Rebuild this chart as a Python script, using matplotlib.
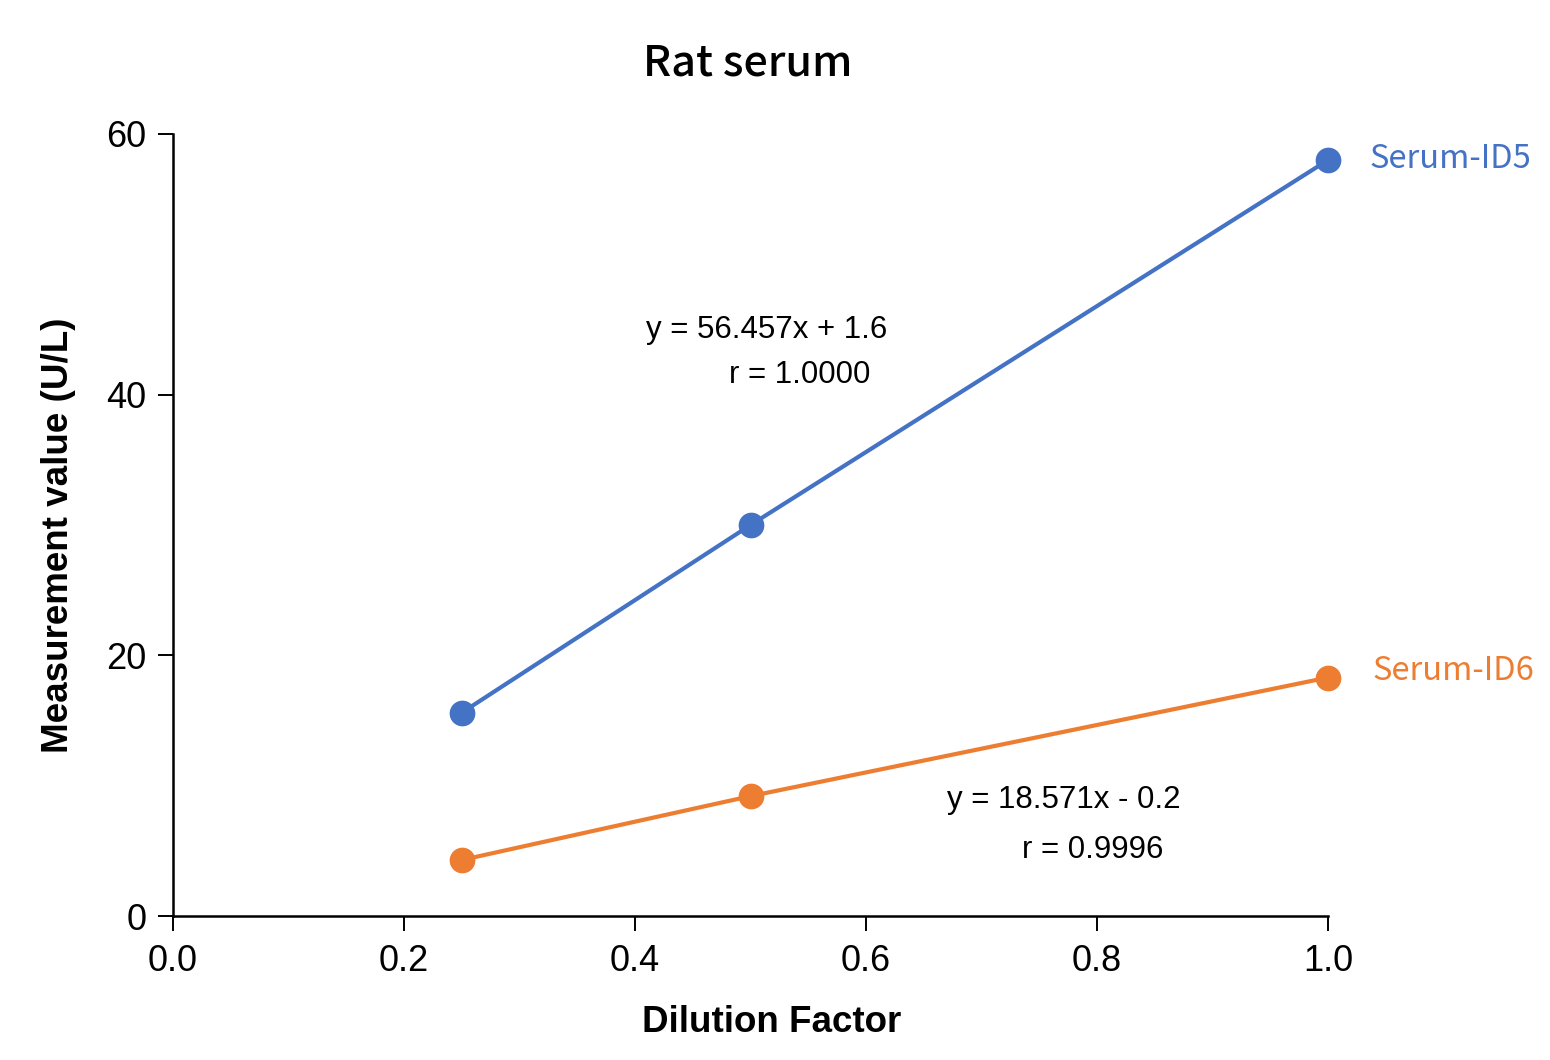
import matplotlib
matplotlib.use("Agg")
import matplotlib.pyplot as plt

dilution = [0.25, 0.5, 1.0]
id5_values = [15.6, 30.0, 58.0]
id6_values = [4.3, 9.2, 18.3]
series_names = ["Serum-ID5", "Serum-ID6"]
x_ticks = [0.0, 0.2, 0.4, 0.6, 0.8, 1.0]
y_ticks = [0, 20, 40, 60]

blue = "#4472C4"
orange = "#ED7D31"
jp_font = ["Noto Sans CJK JP", "DejaVu Sans"]
arial = ["Liberation Sans", "DejaVu Sans"]

fig = plt.figure(figsize=(15.5, 10.6), dpi=100)
ax = fig.add_axes([0.1116, 0.1358, 0.7452, 0.7378])

ax.plot(dilution, id5_values, color=blue, lw=3, marker="o", ms=17.5, zorder=3, clip_on=False)
ax.plot(dilution, id6_values, color=orange, lw=3, marker="o", ms=17.5, zorder=3, clip_on=False)

ax.set_xlim(0, 1.0)
ax.set_ylim(0, 60)
ax.set_xticks(x_ticks)
ax.set_xticklabels([f"{v:.1f}" for v in x_ticks], fontfamily=arial, fontsize=26)
ax.set_yticks(y_ticks)
ax.set_yticklabels([str(v) for v in y_ticks], fontfamily=arial, fontsize=26)
ax.tick_params(axis="x", direction="out", length=11, width=1.4, pad=9)
ax.tick_params(axis="y", direction="out", length=11, width=1.4, pad=8)
for s in ["top", "right"]:
    ax.spines[s].set_visible(False)
for s in ["left", "bottom"]:
    ax.spines[s].set_linewidth(1.8)

ax.set_xlabel("Dilution Factor", fontfamily=arial, fontsize=26.5, fontweight="bold", labelpad=19)
ax.xaxis.label.set_x(0.518)
ax.set_ylabel("Measurement value (U/L)", fontfamily=arial, fontsize=26.5, fontweight="bold", labelpad=22)
ax.yaxis.label.set_y(0.487)
fig.text(0.4826, 0.9406, "Rat serum", fontfamily=jp_font, fontsize=31, fontweight="medium",
         ha="center", va="center")

# series labels at the right end
ax.annotate(series_names[0], xy=(dilution[-1], id5_values[-1]), xytext=(30, 1),
            textcoords="offset points", color=blue, fontfamily=jp_font, fontsize=23.5, va="center")
ax.annotate(series_names[1], xy=(dilution[-1], id6_values[-1]), xytext=(32, 5),
            textcoords="offset points", color=orange, fontfamily=jp_font, fontsize=23.5, va="center")

# regression equations
ax.text(0.514, 45.0, "y = 56.457x + 1.6", fontfamily=arial, fontsize=22.5, ha="center", va="center")
ax.text(0.543, 41.5, "r = 1.0000", fontfamily=arial, fontsize=22.5, ha="center", va="center")
ax.text(0.771, 8.9, "y = 18.571x - 0.2", fontfamily=arial, fontsize=22.5, ha="center", va="center")
ax.text(0.796, 5.07, "r = 0.9996", fontfamily=arial, fontsize=22.5, ha="center", va="center")

fig.savefig("out.png", dpi=100)
